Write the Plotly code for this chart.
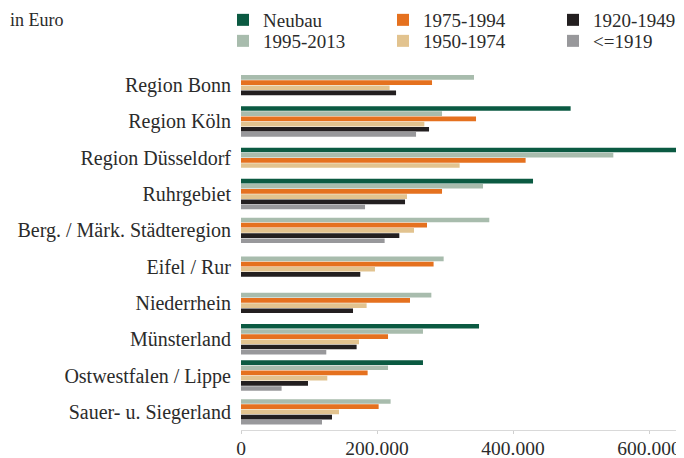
import plotly.graph_objects as go

regions = ["Region Bonn", "Region Köln", "Region Düsseldorf", "Ruhrgebiet",
           "Berg. / Märk. Städteregion", "Eifel / Rur", "Niederrhein",
           "Münsterland", "Ostwestfalen / Lippe", "Sauer- u. Siegerland"]

series_names = ["Neubau", "1995-2013", "1975-1994", "1950-1974", "1920-1949", "<=1919"]

neubau = [None, 484700, 645000, 429400, None, None, None, 350000, 267600, None]
y1995_2013 = [342600, 295600, 547500, 355900, 365100, 298000, 279900, 267600, 216200, 220000]
y1975_1994 = [280900, 345600, 418500, 295600, 273500, 283200, 248500, 216200, 186200, 202400]
y1950_1974 = [218500, 269600, 321500, 244100, 254400, 197000, 184700, 173500, 126900, 144100]
y1920_1949 = [228000, 276500, None, 241200, 232800, 175400, 164700, 170000, 98500, 133800]
y_le1919 = [None, 257400, None, 182400, 211200, None, None, 125400, 59700, 119100]

series_values = [neubau, y1995_2013, y1975_1994, y1950_1974, y1920_1949, y_le1919]
colors = ["#0b5a42", "#a8bcad", "#e5711f", "#e2c38f", "#231f20", "#98989b"]

x_ticks = [0, 200000, 400000, 600000]

# The page body has an 8px default margin, so the figure is laid out in
# coordinates shifted by 8px relative to the 684x458 window.
OFF = 8
W, H = 684 - OFF, 458 - OFF
ML, MR, MT, MB = 241 - OFF, 3, 67 - OFF, 458 - 430
PW = W - ML - MR
PH = H - MT - MB

def px_x(p):  # window pixel -> paper x
    return (p - OFF - ML) / PW

def px_y(p):  # window pixel -> paper y
    return (H - MB - (p - OFF)) / PH

pitch = 0.143
bw = pitch * 0.9

# per-category offsets: present bars are packed and centered on the category
offsets = [[None] * len(regions) for _ in series_names]
for c in range(len(regions)):
    present = [s for s in range(len(series_names)) if series_values[s][c] is not None]
    n = len(present)
    for i, s in enumerate(present):
        offsets[s][c] = -n * pitch / 2 + i * pitch + (pitch - bw) / 2

legend_pos = [(263, 20), (263, 41), (423, 20), (423, 41), (593, 20), (593, 41)]
legend_ids = ["legend", "legend2", "legend3", "legend4", "legend5", "legend6"]

fig = go.Figure()
for s, name in enumerate(series_names):
    xs, ys, offs = [], [], []
    for c, r in enumerate(regions):
        v = series_values[s][c]
        if v is None:
            continue
        xs.append(v)
        ys.append(r)
        offs.append(offsets[s][c])
    fig.add_trace(go.Bar(
        x=xs, y=ys, orientation="h", name=name,
        offset=offs, width=bw,
        marker=dict(color=colors[s], line=dict(width=0)),
        legend=legend_ids[s], showlegend=True,
        hovertemplate="%{y}: %{x:,d}<extra>" + name + "</extra>",
    ))

font_family = "Liberation Serif"
text_color = "#2b2b2b"

layout_legends = {}
for lid, (tx, ty) in zip(legend_ids, legend_pos):
    layout_legends[lid] = dict(
        xref="container", yref="container",
        x=(tx - 40 - OFF) / W, y=1 - (ty - OFF) / H, xanchor="left", yanchor="middle",
        orientation="v", bgcolor="rgba(0,0,0,0)", borderwidth=0,
        font=dict(family=font_family, size=19, color=text_color),
        itemwidth=30, tracegroupgap=0,
    )

fig.update_layout(
    width=W, height=H,
    margin=dict(l=ML, r=MR, t=MT, b=MB, pad=0, autoexpand=False),
    plot_bgcolor="white", paper_bgcolor="white",
    separators=",.",
    barmode="overlay",
    font=dict(family=font_family, size=19, color=text_color),
    xaxis=dict(
        range=[0, 647000], tickvals=x_ticks, tickformat=",d",
        showgrid=False, zeroline=False, automargin=False,
        showline=True, linecolor="#d9d9d9", linewidth=1,
        ticks="outside", ticklen=3, tickcolor="#d0d0d0",
        ticklabelstandoff=-2,
        tickfont=dict(family=font_family, size=19.5, color=text_color),
    ),
    yaxis=dict(
        type="category", categoryorder="array", categoryarray=regions,
        range=[len(regions) - 0.5, -0.5], automargin=False,
        showgrid=False, zeroline=False, showline=False, ticks="",
        ticklabelstandoff=9,
        tickfont=dict(family=font_family, size=20, color=text_color),
    ),
    annotations=[dict(
        text="in Euro", xref="paper", yref="paper",
        x=px_x(8), y=px_y(20), xanchor="left", yanchor="middle",
        showarrow=False, font=dict(family=font_family, size=18, color=text_color),
    )],
    **layout_legends,
)

fig.write_html("out.html")
